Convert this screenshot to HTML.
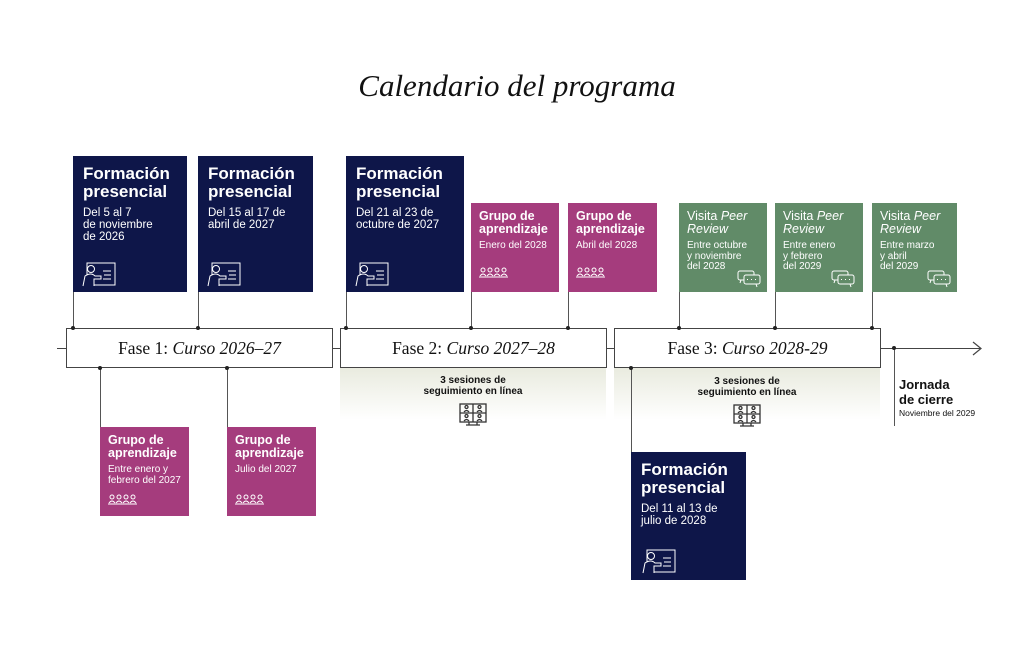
<!DOCTYPE html>
<html><head><meta charset="utf-8"><style>
*{margin:0;padding:0;box-sizing:border-box}
body{width:1024px;height:645px;background:#fff;position:relative;overflow:hidden;font-family:"Liberation Sans",sans-serif}
.a{position:absolute}
.box{position:absolute;color:#fff;padding:9px 10px}
.nv{background:#0e1649}
.mg{background:#a53c7d}
.gr{background:#618b68}
.nv .t{font-weight:bold;font-size:17px;line-height:18px}
.nv .d{font-size:11.5px;line-height:12px;margin-top:6px}
.sm .t{font-weight:bold;font-size:12.5px;line-height:13px}
.sm .d{font-size:10px;line-height:10.5px;margin-top:5px}
.ph{position:absolute;top:328px;height:40px;border:1.3px solid #444;background:#fff;font-family:"Liberation Serif",serif;font-size:17.5px;text-align:center;line-height:38px;color:#111}
.vl{position:absolute;width:1px;background:#555}
.dot{position:absolute;width:4px;height:4px;border-radius:2px;background:#222}
.grad{position:absolute;top:368px;height:52px;background:linear-gradient(#e9ebdf,#fff)}
.ses{position:absolute;font-weight:bold;font-size:10px;line-height:11px;text-align:center;color:#111}
</style></head><body>
<div class="a" style="left:0;width:1024px;top:68px;text-align:center;font-family:'Liberation Serif',serif;font-style:italic;font-size:31px;color:#111;padding-left:10px">Calendario del programa</div>

<div class="a" style="left:57px;top:348px;width:924px;height:1px;background:#444"></div>
<svg class="a" style="left:970px;top:341px" width="14" height="15"><path d="M3 1 L11 7.5 L3 14" stroke="#444" stroke-width="1.2" fill="none"/></svg>

<div class="grad" style="left:340px;width:266px"></div>
<div class="grad" style="left:614px;width:266px"></div>

<div class="vl" style="left:73px;top:292px;height:36px"></div>
<div class="vl" style="left:198px;top:292px;height:36px"></div>
<div class="vl" style="left:346px;top:292px;height:36px"></div>
<div class="vl" style="left:471px;top:292px;height:36px"></div>
<div class="vl" style="left:568px;top:292px;height:36px"></div>
<div class="vl" style="left:679px;top:292px;height:36px"></div>
<div class="vl" style="left:775px;top:292px;height:36px"></div>
<div class="vl" style="left:872px;top:292px;height:36px"></div>
<div class="vl" style="left:100px;top:368px;height:60px"></div>
<div class="vl" style="left:227px;top:368px;height:60px"></div>
<div class="vl" style="left:631px;top:368px;height:85px"></div>
<div class="vl" style="left:894px;top:348px;height:78px"></div>

<div class="ph" style="left:66px;width:267px">Fase 1: <i>Curso 2026–27</i></div>
<div class="ph" style="left:340px;width:267px">Fase 2: <i>Curso 2027–28</i></div>
<div class="ph" style="left:614px;width:267px">Fase 3: <i>Curso 2028-29</i></div>

<div class="dot" style="left:71px;top:326px"></div>
<div class="dot" style="left:196px;top:326px"></div>
<div class="dot" style="left:344px;top:326px"></div>
<div class="dot" style="left:469px;top:326px"></div>
<div class="dot" style="left:566px;top:326px"></div>
<div class="dot" style="left:677px;top:326px"></div>
<div class="dot" style="left:773px;top:326px"></div>
<div class="dot" style="left:870px;top:326px"></div>
<div class="dot" style="left:98px;top:366px"></div>
<div class="dot" style="left:225px;top:366px"></div>
<div class="dot" style="left:629px;top:366px"></div>
<div class="dot" style="left:892px;top:346px"></div>

<svg width="0" height="0" style="position:absolute"><defs>
<g id="teach" stroke="#fff" stroke-width="1" fill="none"><rect x="6" y="1" width="28" height="22"/><circle cx="10" cy="7" r="3.5" fill="#0e1649"/><path d="M2 24 L4 14 Q10 10 14 14 L20 14 L20 17 L13 17 L13 24" fill="#0e1649"/><path d="M22 9h8M23 13h7M22 17h8"/></g>
<g id="grp" stroke="#fff" stroke-width="1" fill="none"><circle cx="4" cy="4" r="2"/><circle cx="11" cy="4" r="2"/><circle cx="18" cy="4" r="2"/><circle cx="25" cy="4" r="2"/><path d="M1 10q3-4 6 0M8 10q3-4 6 0M15 10q3-4 6 0M22 10q3-4 6 0M0 11h29"/></g>
<g id="chat" stroke="#fff" stroke-width="1" fill="none"><rect x="1" y="1" width="16" height="9" rx="2"/><rect x="7" y="5" width="16" height="9" rx="2" fill="#618b68"/><path d="M10 9.5h1M14 9.5h1M18 9.5h1M4 10l-1 3M19 14l1 3"/></g>
<g id="mon" stroke="#333" stroke-width="1.3" fill="none"><rect x="1" y="1" width="26" height="18"/><path d="M14 1v18M1 10h26M10 19v3M18 19v3M7 22h14"/><circle cx="7.5" cy="4" r="1.5"/><circle cx="20.5" cy="4" r="1.5"/><circle cx="7.5" cy="13" r="1.5"/><circle cx="20.5" cy="13" r="1.5"/><path d="M5 9q2.5-3 5 0M18 9q2.5-3 5 0M5 18q2.5-3 5 0M18 18q2.5-3 5 0"/></g>
</defs></svg>

<div class="box nv" style="left:73px;top:156px;width:114px;height:136px"><div class="t">Formación presencial</div><div class="d">Del 5 al 7<br>de noviembre<br>de 2026</div><svg class="a" style="left:8px;top:106px" width="36" height="26"><use href="#teach"/></svg></div>
<div class="box nv" style="left:198px;top:156px;width:115px;height:136px"><div class="t">Formación presencial</div><div class="d">Del 15 al 17 de<br>abril de 2027</div><svg class="a" style="left:8px;top:106px" width="36" height="26"><use href="#teach"/></svg></div>
<div class="box nv" style="left:346px;top:156px;width:118px;height:136px"><div class="t">Formación presencial</div><div class="d">Del 21 al 23 de<br>octubre de 2027</div><svg class="a" style="left:8px;top:106px" width="36" height="26"><use href="#teach"/></svg></div>
<div class="box nv" style="left:631px;top:452px;width:115px;height:128px"><div class="t">Formación presencial</div><div class="d">Del 11 al 13 de<br>julio de 2028</div><svg class="a" style="left:10px;top:97px" width="36" height="26"><use href="#teach"/></svg></div>

<div class="box mg sm" style="left:471px;top:203px;width:88px;height:89px;padding:7px 8px"><div class="t">Grupo de aprendizaje</div><div class="d">Enero del 2028</div><svg class="a" style="left:8px;top:63px" width="30" height="13"><use href="#grp"/></svg></div>
<div class="box mg sm" style="left:568px;top:203px;width:89px;height:89px;padding:7px 8px"><div class="t">Grupo de aprendizaje</div><div class="d">Abril del 2028</div><svg class="a" style="left:8px;top:63px" width="30" height="13"><use href="#grp"/></svg></div>
<div class="box mg sm" style="left:100px;top:427px;width:89px;height:89px;padding:7px 8px"><div class="t">Grupo de aprendizaje</div><div class="d">Entre enero y<br>febrero del 2027</div><svg class="a" style="left:8px;top:66px" width="30" height="13"><use href="#grp"/></svg></div>
<div class="box mg sm" style="left:227px;top:427px;width:89px;height:89px;padding:7px 8px"><div class="t">Grupo de aprendizaje</div><div class="d">Julio del 2027</div><svg class="a" style="left:8px;top:66px" width="30" height="13"><use href="#grp"/></svg></div>

<div class="box gr sm" style="left:679px;top:203px;width:88px;height:89px;padding:7px 8px"><div class="t" style="font-weight:normal">Visita <i>Peer Review</i></div><div class="d">Entre octubre<br>y noviembre<br>del 2028</div><svg class="a" style="left:58px;top:67px" width="25" height="18"><use href="#chat"/></svg></div>
<div class="box gr sm" style="left:775px;top:203px;width:88px;height:89px;padding:7px 8px"><div class="t" style="font-weight:normal">Visita <i>Peer Review</i></div><div class="d">Entre enero<br>y febrero<br>del 2029</div><svg class="a" style="left:56px;top:67px" width="25" height="18"><use href="#chat"/></svg></div>
<div class="box gr sm" style="left:872px;top:203px;width:85px;height:89px;padding:7px 8px"><div class="t" style="font-weight:normal">Visita <i>Peer Review</i></div><div class="d">Entre marzo<br>y abril<br>del 2029</div><svg class="a" style="left:55px;top:67px" width="25" height="18"><use href="#chat"/></svg></div>

<div class="ses" style="left:403px;top:375px;width:140px">3 sesiones de<br>seguimiento en línea</div>
<svg class="a" style="left:459px;top:403px" width="28" height="24"><use href="#mon"/></svg>
<div class="ses" style="left:677px;top:376px;width:140px">3 sesiones de<br>seguimiento en línea</div>
<svg class="a" style="left:733px;top:404px" width="28" height="24"><use href="#mon"/></svg>

<div class="a" style="left:899px;top:378px;font-weight:bold;font-size:13px;line-height:14.5px;color:#111">Jornada<br>de cierre</div>
<div class="a" style="left:899px;top:408px;font-size:8.5px;color:#111">Noviembre del 2029</div>
</body></html>
